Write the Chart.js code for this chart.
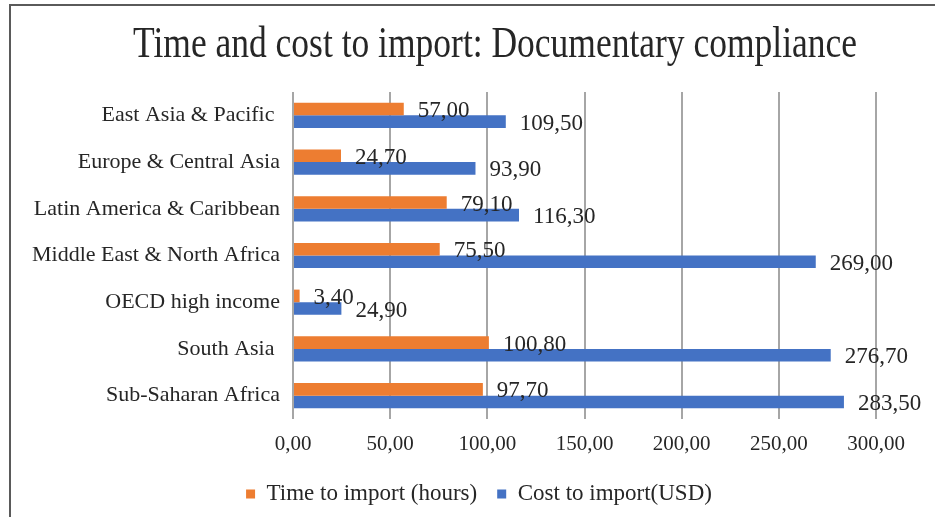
<!DOCTYPE html>
<html>
<head>
<meta charset="utf-8">
<script src="https://cdn.jsdelivr.net/npm/chart.js@4"></script>
<style>
  html, body { margin: 0; padding: 0; background: #fff; overflow: hidden; }
  #wrap { width: 935px; height: 517px; position: relative; }
</style>
</head>
<body>
<div id="wrap"><canvas id="importChart" width="935" height="517"></canvas></div>
<script>
// data
const regions = [
  "East Asia & Pacific ",
  "Europe & Central Asia",
  "Latin America & Caribbean",
  "Middle East & North Africa",
  "OECD high income",
  "South Asia ",
  "Sub-Saharan Africa"
];
const timeHours = [57.0, 24.7, 79.1, 75.5, 3.4, 100.8, 97.7];
const costUsd = [109.5, 93.9, 116.3, 269.0, 24.9, 276.7, 283.5];
const xTicks = [0, 50, 100, 150, 200, 250, 300];

const FONT = "'Liberation Serif', 'DejaVu Serif', serif";
const TEXT = "#262626";

const fmt = v => v.toFixed(2).replace(".", ",");

// title + frame drawn by hand (title is off-centre in the original)
const frameAndTitle = {
  id: "frameAndTitle",
  beforeDraw(chart) {
    const c = chart.ctx;
    c.save();
    c.strokeStyle = "#5a5a5a";
    c.lineWidth = 2;
    c.beginPath();
    c.moveTo(10, 517);
    c.lineTo(10, 5);
    c.lineTo(935, 5);
    c.stroke();

    const title = "Time and cost to import: Documentary compliance";
    c.font = "44px " + FONT;
    c.fillStyle = TEXT;
    c.textBaseline = "alphabetic";
    c.textAlign = "left";
    const w = c.measureText(title).width;
    c.translate(133, 57);
    c.scale(724 / w, 1);
    c.fillText(title, 0, 0);
    c.restore();
  }
};

// legend sits a bit right of centre in the original
const legendShift = {
  id: "legendShift",
  afterLayout(chart) {
    const lg = chart.legend;
    if (!lg) return;
    const dx = 479 - (lg.left + lg.right) / 2;
    const dy = 489 - (lg.top + lg.bottom) / 2;
    lg.left += dx; lg.right += dx;
    lg.top += dy; lg.bottom += dy;
  }
};

// value labels after each bar
const valueLabels = {
  id: "valueLabels",
  afterDatasetsDraw(chart) {
    const c = chart.ctx;
    c.save();
    c.font = "23px " + FONT;
    c.fillStyle = TEXT;
    c.textAlign = "left";
    c.textBaseline = "middle";
    chart.data.datasets.forEach((ds, i) => {
      chart.getDatasetMeta(i).data.forEach((bar, j) => {
        c.fillText(fmt(ds.data[j]), bar.x + 14, bar.y + 2);
      });
    });
    c.restore();
  }
};

new Chart(document.getElementById("importChart"), {
  type: "bar",
  data: {
    labels: regions,
    datasets: [
      {
        label: "Time to import (hours)",
        data: timeHours,
        backgroundColor: "#ED7D31",
        categoryPercentage: 0.54,
        barPercentage: 1
      },
      {
        label: "Cost to import(USD)",
        data: costUsd,
        backgroundColor: "#4472C4",
        categoryPercentage: 0.54,
        barPercentage: 1
      }
    ]
  },
  options: {
    indexAxis: "y",
    responsive: false,
    animation: false,
    layout: { padding: { top: 92, left: 14, right: 59, bottom: 0 } },
    scales: {
      x: {
        min: 0,
        max: 300,
        afterBuildTicks(scale) {
          scale.ticks = xTicks.map(v => ({ value: v }));
        },
        afterFit(scale) {
          const lg = scale.chart.legend;
          scale.height = 98 - (lg ? lg.height : 0);
        },
        grid: { color: "#a6a6a6", lineWidth: 2, drawTicks: false },
        border: { display: false },
        ticks: {
          padding: 13,
          color: TEXT,
          font: { family: FONT, size: 21 },
          callback: v => fmt(v)
        }
      },
      y: {
        afterFit(scale) { scale.width = 279; },
        grid: { display: false, drawTicks: false },
        border: { display: false },
        ticks: {
          padding: 13,
          color: TEXT,
          font: { family: FONT, size: 22 }
        }
      }
    },
    plugins: {
      title: { display: false },
      tooltip: { enabled: false },
      legend: {
        position: "bottom",
        labels: {
          color: TEXT,
          font: { family: FONT, size: 23 },
          boxWidth: 9,
          boxHeight: 9,
          padding: 20
        }
      }
    }
  },
  plugins: [frameAndTitle, legendShift, valueLabels]
});
</script>
</body>
</html>
